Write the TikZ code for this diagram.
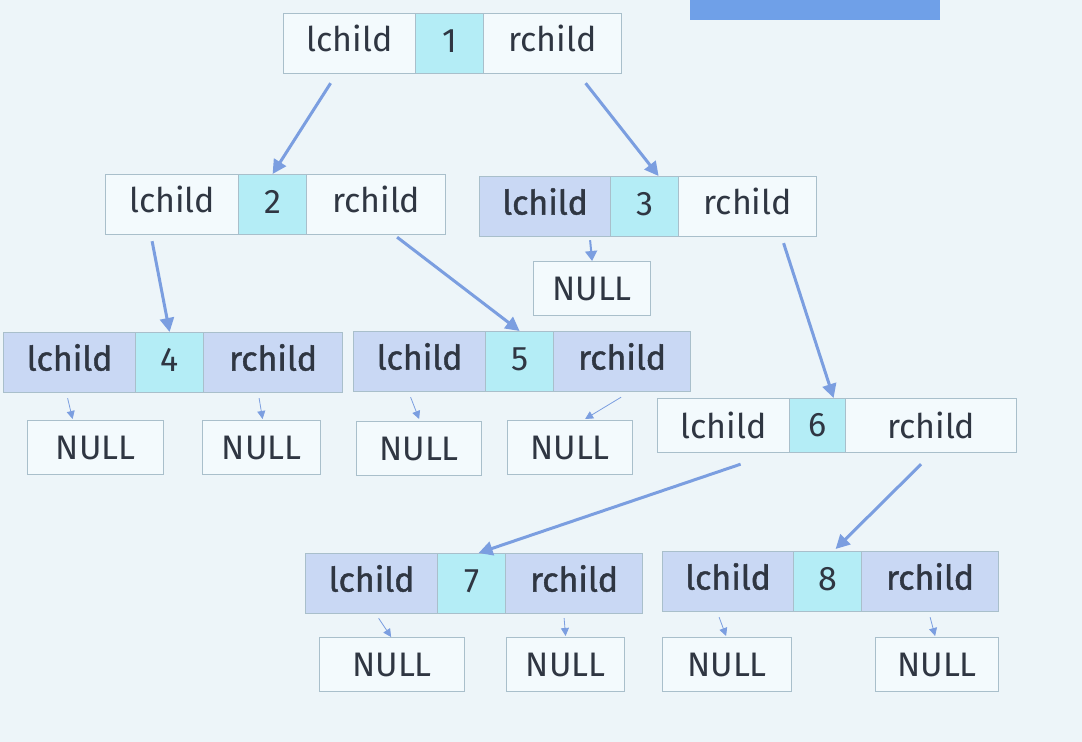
\documentclass[tikz,border=0pt]{standalone}
\usepackage{fontspec}
\setmainfont{Fira Sans}
\newfontfamily\mediumface[FakeBold=1.2]{Fira Sans}
\usetikzlibrary{arrows.meta}
\definecolor{bgblue}{HTML}{EDF5F9}
\definecolor{paleblue}{HTML}{F3FAFD}
\definecolor{midblue}{HTML}{C9D8F4}
\definecolor{cyanish}{HTML}{B4EDF6}
\definecolor{edgegray}{HTML}{A9BFCB}
\definecolor{linkblue}{HTML}{7B9EE0}
\definecolor{titleblue}{HTML}{6FA0E8}
\definecolor{ink}{HTML}{2F3642}
\begin{document}
\begin{tikzpicture}[x=0.5pt,y=-0.5pt,
    cell/.style={draw=edgegray,line width=0.6pt,anchor=north west,minimum height=30pt,
      inner sep=0pt,text=ink,font=\fontsize{17}{20}\selectfont},
    raised/.style={text height=12pt,text depth=4pt},
    ptr/.style={cell,raised,fill=paleblue},
    usedptr/.style={cell,raised,fill=midblue,font=\fontsize{17}{20}\selectfont\mediumface},
    key/.style={cell,fill=cyanish,minimum width=34pt,text height=12pt,text depth=3.5pt},
    nil/.style={cell,fill=paleblue,minimum height=27pt},
    link/.style={draw=linkblue,line width=1.5pt,-{Triangle[width=7pt,length=7pt]}},
    thinlink/.style={draw=linkblue,line width=0.4pt,-{Triangle[width=4pt,length=4pt]}}]
  \fill[bgblue] (0,0) rectangle (1082,742);
  \useasboundingbox (0,0) rectangle (1082,742);
  \fill[titleblue] (690,0) rectangle (940,20);
  % root
  \node[ptr,minimum width=66pt] (n1l) at (283,13) {lchild};
  \node[key] (n1k) at (415,13) {1};
  \node[ptr,minimum width=69pt] (n1r) at (483,13) {rchild};
  % second level
  \node[ptr,minimum width=66.5pt] (n2l) at (105,174) {lchild};
  \node[key] (n2k) at (238,174) {2};
  \node[ptr,minimum width=69.5pt] (n2r) at (306,174) {rchild};
  \node[usedptr,minimum width=65.5pt] (n3l) at (479,176) {lchild};
  \node[key] (n3k) at (610,176) {3};
  \node[ptr,minimum width=69pt] (n3r) at (678,176) {rchild};
  \node[nil,minimum width=58.5pt] (nil3l) at (533,261) {NULL};
  % third level
  \node[usedptr,minimum width=66pt] (n4l) at (3,332) {lchild};
  \node[key] (n4k) at (135,332) {4};
  \node[usedptr,minimum width=69.5pt] (n4r) at (203,332) {rchild};
  \node[usedptr,minimum width=66pt] (n5l) at (353,331) {lchild};
  \node[key] (n5k) at (485,331) {5};
  \node[usedptr,minimum width=68.5pt] (n5r) at (553,331) {rchild};
  \node[cell,fill=paleblue,minimum width=66pt,minimum height=27pt] (n6l) at (657,398) {lchild};
  \node[cell,fill=cyanish,minimum width=28pt,minimum height=27pt] (n6k) at (789,398) {6};
  \node[cell,fill=paleblue,minimum width=85.5pt,minimum height=27pt] (n6r) at (845,398) {rchild};
  \node[nil,minimum width=68pt] (nil4l) at (27,420) {NULL};
  \node[nil,minimum width=59pt] (nil4r) at (202,420) {NULL};
  \node[nil,minimum width=62.5pt] (nil5l) at (356,421) {NULL};
  \node[nil,minimum width=62.5pt] (nil5r) at (507,420) {NULL};
  % fourth level
  \node[usedptr,minimum width=66pt] (n7l) at (305,553) {lchild};
  \node[key] (n7k) at (437,553) {7};
  \node[usedptr,minimum width=68.5pt] (n7r) at (505,553) {rchild};
  \node[usedptr,minimum width=65.5pt] (n8l) at (662,551) {lchild};
  \node[key] (n8k) at (793,551) {8};
  \node[usedptr,minimum width=68.5pt] (n8r) at (861,551) {rchild};
  \node[nil,minimum width=72.5pt] (nil7l) at (319,637) {NULL};
  \node[nil,minimum width=59pt] (nil7r) at (506,637) {NULL};
  \node[nil,minimum width=64.5pt] (nil8l) at (662,637) {NULL};
  \node[nil,minimum width=61.5pt] (nil8r) at (875,637) {NULL};
  % child links
  \draw[link] ([shift={(-19,9)}]n1l.south) -- (n2k.north);
  \draw[link] ([shift={(33,9)}]n1r.south) -- ([shift={(14,0)}]n3k.north);
  \draw[link] ([shift={(-20,6)}]n2l.south) -- (n4k.north);
  \draw[link] ([shift={(21,2)}]n2r.south) -- (n5k.north);
  \draw[link] ([shift={(36,6)}]n3r.south) -- ([shift={(16,0)}]n6k.north);
  \draw[link] ([shift={(17,11)}]n6l.south) -- ([shift={(7,0)}]n7k.north);
  \draw[link] ([shift={(-10,11)}]n6r.south) -- ([shift={(8,-2)}]n8k.north);
  \draw[link,line width=1pt,-{Triangle[width=6pt,length=5pt]}] ([shift={(45,3)}]n3l.south) -- (nil3l.north);
  % null links
  \draw[thinlink] ([shift={(-2,5)}]n4l.south) -- ([shift={(-23,-1)}]nil4l.north);
  \draw[thinlink] ([shift={(-14,5)}]n4r.south) -- ([shift={(1,-1)}]nil4r.north);
  \draw[thinlink] ([shift={(-9,5)}]n5l.south) -- ([shift={(0,-2)}]nil5l.north);
  \draw[thinlink] ([shift={(-1,5)}]n5r.south) -- ([shift={(15,-1)}]nil5r.north);
  \draw[thinlink] ([shift={(7,4)}]n7l.south) -- ([shift={(-1,0)}]nil7l.north);
  \draw[thinlink] ([shift={(-10,4)}]n7r.south) -- ([shift={(0,-1)}]nil7r.north);
  \draw[thinlink] ([shift={(-9,5)}]n8l.south) -- ([shift={(-1,-1)}]nil8l.north);
  \draw[thinlink] ([shift={(0,5)}]n8r.south) -- ([shift={(-2,-1)}]nil8r.north);
\end{tikzpicture}
\end{document}
